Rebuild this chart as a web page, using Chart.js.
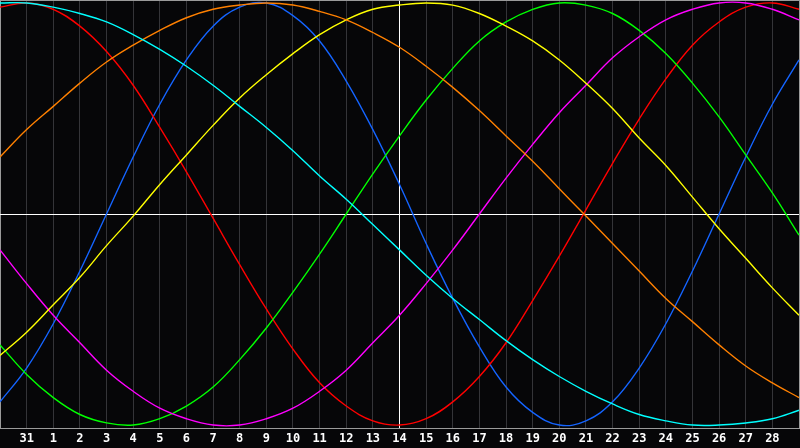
<!DOCTYPE html>
<html lang="en">
<head>
    <meta charset="UTF-8">
    <title>Biorhythm</title>
    <style>
        html, body { margin: 0; padding: 0; background: #060608; }
        .chart-box { width: 800px; height: 448px; }
    </style>
    <script src="https://cdn.jsdelivr.net/npm/chart.js"></script>
</head>
<body>
    <div class="chart-box">
        <canvas id="bioChart"></canvas>
    </div>

    <script>
        // day labels along the bottom (the two edge days are not labelled)
        var days = ['', '31', '1', '2', '3', '4', '5', '6', '7', '8', '9', '10', '11', '12', '13', '14',
            '15', '16', '17', '18', '19', '20', '21', '22', '23', '24', '25', '26', '27', '28', ''];
        var todayIndex = 15; // "14" gets the white line

        // values, -1 .. 1
        var physical = [-0.89, -0.73, -0.52, -0.27, 0.00, 0.27, 0.52, 0.73, 0.89, 0.98, 1.00, 0.94, 0.82, 0.63, 0.40, 0.14,
            -0.14, -0.40, -0.63, -0.82, -0.94, -1.00, -0.98, -0.89, -0.73, -0.52, -0.27, 0.00, 0.27, 0.52, 0.73];
        var emotional = [0.98, 1.00, 0.97, 0.89, 0.77, 0.61, 0.41, 0.20, -0.02, -0.24, -0.45, -0.64, -0.80, -0.91, -0.98, -1.00,
            -0.97, -0.89, -0.77, -0.61, -0.41, -0.20, 0.02, 0.24, 0.45, 0.64, 0.80, 0.91, 0.98, 1.00, 0.97];
        var intellectual = [-0.62, -0.76, -0.87, -0.95, -0.99, -1.00, -0.97, -0.91, -0.82, -0.69, -0.54, -0.37, -0.19, 0.00, 0.19, 0.37,
            0.54, 0.69, 0.82, 0.91, 0.97, 1.00, 0.99, 0.95, 0.87, 0.76, 0.62, 0.46, 0.28, 0.10, -0.10];
        var intuitive = [-0.17, -0.33, -0.48, -0.61, -0.74, -0.84, -0.92, -0.97, -1.00, -1.00, -0.97, -0.92, -0.84, -0.74, -0.61, -0.48,
            -0.33, -0.17, 0.00, 0.17, 0.33, 0.48, 0.61, 0.74, 0.84, 0.92, 0.97, 1.00, 1.00, 0.97, 0.92];
        var aesthetic = [-0.67, -0.56, -0.43, -0.30, -0.15, -0.01, 0.14, 0.28, 0.42, 0.55, 0.66, 0.76, 0.85, 0.92, 0.97, 0.99,
            1.00, 0.99, 0.95, 0.89, 0.82, 0.73, 0.62, 0.50, 0.36, 0.23, 0.08, -0.07, -0.21, -0.35, -0.48];
        var awareness = [0.27, 0.40, 0.51, 0.62, 0.72, 0.80, 0.87, 0.93, 0.97, 0.99, 1.00, 0.99, 0.96, 0.92, 0.86, 0.79,
            0.70, 0.60, 0.49, 0.37, 0.25, 0.12, -0.01, -0.14, -0.27, -0.40, -0.51, -0.62, -0.72, -0.80, -0.87];
        var spiritual = [1.00, 1.00, 0.98, 0.95, 0.91, 0.85, 0.78, 0.70, 0.61, 0.51, 0.41, 0.30, 0.18, 0.07, -0.05, -0.17,
            -0.29, -0.40, -0.50, -0.60, -0.69, -0.77, -0.84, -0.90, -0.95, -0.98, -1.00, -1.00, -0.99, -0.97, -0.93];

        var yLimit = 1.014;

        // paint the dark background behind everything
        const darkBackground = {
            id: 'darkBackground',
            beforeDraw: function(chart) {
                const ctx = chart.ctx;
                ctx.save();
                ctx.fillStyle = '#060608';
                ctx.fillRect(0, 0, chart.width, chart.height);
                ctx.restore();
            }
        };
        Chart.register(darkBackground);

        function curve(label, values, color) {
            return {
                label: label,
                data: values,
                borderColor: color,
                borderWidth: 1.4,
                pointRadius: 0,
                tension: 0.4,
                fill: false
            };
        }

        var data = {
            labels: days,
            datasets: [
                curve('Spiritual', spiritual, '#00ffff'),
                curve('Awareness', awareness, '#ff8000'),
                curve('Aesthetic', aesthetic, '#ffff00'),
                curve('Intuitive', intuitive, '#ff00ff'),
                curve('Intellectual', intellectual, '#00ff00'),
                curve('Emotional', emotional, '#ff0000'),
                curve('Physical', physical, '#1464ff')
            ]
        };

        var options = {
            responsive: true,
            maintainAspectRatio: false,
            animation: false,
            layout: { padding: { left: 0, right: 1, top: 0, bottom: 0 } }, // 1px so the right frame line shows
            plugins: {
                legend: { display: false },
                tooltip: { enabled: false }
            },
            scales: {
                x: {
                    type: 'category',
                    offset: false,
                    afterFit: function(scale) { scale.height = 20; },
                    grid: {
                        drawTicks: false,
                        lineWidth: 1,
                        color: function(ctx) {
                            if (ctx.index === todayIndex) return '#ffffff';
                            if (ctx.index === 0 || ctx.index === days.length - 1) return '#9a9a9a';
                            return '#343438';
                        }
                    },
                    border: { color: '#9a9a9a', width: 1 },
                    ticks: {
                        color: '#ffffff',
                        // tall line height pushes the labels down without side padding
                        font: { family: 'DejaVu Sans Mono', size: 12, weight: 'bold', lineHeight: '22px' },
                        maxRotation: 0,
                        autoSkip: false,
                        padding: 0
                    }
                },
                y: {
                    min: -yLimit,
                    max: yLimit,
                    afterBuildTicks: function(scale) {
                        scale.ticks = [{ value: -yLimit }, { value: 0 }, { value: yLimit }];
                    },
                    grid: {
                        drawTicks: false,
                        color: function(ctx) {
                            return ctx.tick.value === 0 ? '#ffffff' : '#9a9a9a';
                        }
                    },
                    border: { display: false },
                    ticks: { display: false }
                }
            }
        };

        var ctx = document.getElementById('bioChart').getContext('2d');
        new Chart(ctx, { type: 'line', data: data, options: options });
    </script>
</body>
</html>
